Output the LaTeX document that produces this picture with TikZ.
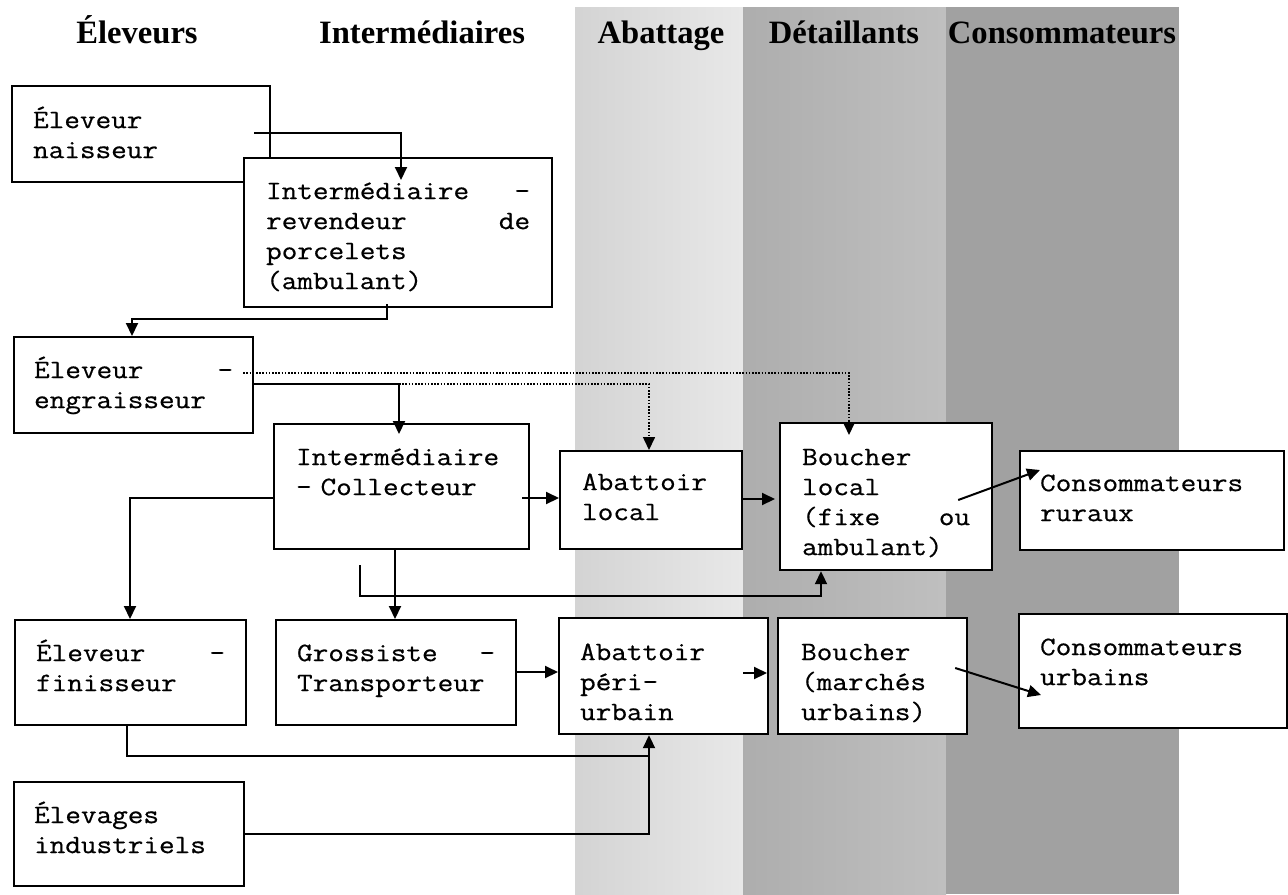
\documentclass[tikz,border=0pt]{standalone}
\usepackage{fontspec}
\newfontfamily\boxfont[FakeStretch=1.14,FakeBold=0.6]{Latin Modern Mono}
\newfontfamily\headfont{Liberation Serif}
\usetikzlibrary{arrows.meta,calc}
% box: name, x1, y1, x2, y2, text left x, first baseline y, text  (pixel units)
\newcommand\bx[8]{%
  \pgfmathsetmacro\bxsep{(#6-#2)*0.5}%
  \pgfmathsetmacro\bxtw{(#4-#2)*0.5-2*\bxsep}%
  \pgfmathsetmacro\bxth{(#7-#3)*0.5}%
  \pgfmathsetmacro\bxtd{(#5-#7)*0.5}%
  \node[box, anchor=north west, inner xsep=\bxsep pt, text width=\bxtw pt,
        text height=\bxth pt, text depth=\bxtd pt] (#1) at (#2,#3) {#8};%
}
\tikzset{
  box/.style={draw, fill=white, line width=1.1pt, inner ysep=0pt, align=left,
    font=\boxfont\fontsize{13.3}{15}\selectfont},
  head/.style={anchor=base, inner sep=0pt, font=\headfont\bfseries\fontsize{16.3}{18}\selectfont},
  conn/.style={line width=1pt},
  arr/.style={conn, -{Triangle[length=6.5pt,width=6pt]}},
  dotarr/.style={line width=0.8pt, dash pattern=on 0.8pt off 0.8pt, -{Triangle[length=6.5pt,width=6pt]}},
}
\begin{document}
\begin{tikzpicture}[x=0.5pt,y=-0.5pt]
\useasboundingbox (0,0) rectangle (1288,894);
\fill[white] (0,0) rectangle (1288,894);
% column shading
\fill[left color=black!17, right color=black!9] (575,7) rectangle (743,894);
\fill[left color=black!32, right color=black!25] (743,7) rectangle (946,894);
\fill[black!37] (946,7) rectangle (1179,894);
% headers
\node[head] (hEle) at (137,43) {Éleveurs};
\node[head] (hInt) at (422,43) {Intermédiaires};
\node[head] (hAba) at (661,43) {Abattage};
\node[head] (hDet) at (844,43) {Détaillants};
\node[head] (hCon) at (1062,43) {Consommateurs};
% boxes
\bx{nais}{11}{85}{269}{181}{32}{127}{Éleveur\\naisseur}
\bx{rev}{243}{157}{551}{306}{265}{198}{Intermédiaire\hfill-\\revendeur\hfill de\\porcelets\\(ambulant)}
\bx{engr}{13}{336}{252}{432}{33}{377}{Éleveur\hfill-\\engraisseur}
\bx{coll}{273}{423}{528}{548}{295}{464}{Intermédiaire\\- Collecteur}
\bx{al}{559}{450}{741}{548}{581}{489}{Abattoir\\local}
\bx{bl}{779}{422}{991}{569}{801}{464}{Boucher\\local\\(fixe\hfill ou\\ambulant)}
\bx{cr}{1019}{450}{1283}{549}{1039}{490}{Consommateurs\\ruraux}
\bx{fin}{14}{619}{245}{724}{35}{660}{Éleveur\hfill-\\finisseur}
\bx{gross}{275}{619}{515}{724}{296}{660}{Grossiste\hfill-\\Transporteur}
\bx{peri}{558}{617}{767}{733}{579}{659}{Abattoir\\péri-\\urbain}
\bx{bm}{777}{617}{966}{733}{800}{659}{Boucher\\(marchés\\urbains)}
\bx{cu}{1018}{613}{1286}{727}{1039}{654}{Consommateurs\\urbains}
\bx{ind}{13}{781}{243}{885}{33}{822}{Élevages\\industriels}
% connectors
\draw[arr] ($(nais.north east)+(-17,48)$) -| ($(rev.north west)+(158,23)$);
\draw[arr] ($(rev.south west)+(144,-4)$) -- ++(0,15) -| ($(engr.north west)+(119,0)$);
\draw[arr] ($(engr.north east)+(0,48)$) -| ($(coll.north west)+(126,11)$);
\draw[dotarr] ($(engr.north east)+(-11,37)$) -| ($(bl.north west)+(70,13)$);
\draw[dotarr] ($(coll.north west)+(126,-39)$) -| ($(al.north west)+(90,0)$);
\draw[arr] ($(coll.north east)+(-8,75)$) -- ($(al.north west)+(0,48)$);
\draw[arr] ($(al.north east)+(0,49)$) -- ($(bl.north west)+(-4,77)$);
\draw[arr] ($(bl.north east)+(-35,78)$) -- ($(cr.north west)+(21,20)$);
\draw[arr] ($(coll.south west)+(122,0)$) -- ($(gross.north west)+(120,0)$);
\coordinate (free) at (360,565);
\draw[arr] (free) |- ($(bl.south west)+(42,25)$) -- ($(bl.south west)+(42,0)$);
\draw[arr] ($(coll.north west)+(0,75)$) -| ($(fin.north west)+(116,0)$);
\draw[arr] ($(gross.north east)+(0,53)$) -- ($(peri.north west)+(0,55)$);
\draw[arr] ($(peri.north east)+(-26,56)$) -- ($(bm.north west)+(-10,56)$);
\draw[arr] ($(bm.north east)+(-13,51)$) -- ($(cu.north west)+(23,82)$);
\draw[conn] ($(fin.south west)+(113,0)$) |- ($(peri.south west)+(91,21)$);
\draw[arr] ($(ind.north east)+(0,53)$) -| ($(peri.south west)+(91,0)$);
\end{tikzpicture}
\end{document}
